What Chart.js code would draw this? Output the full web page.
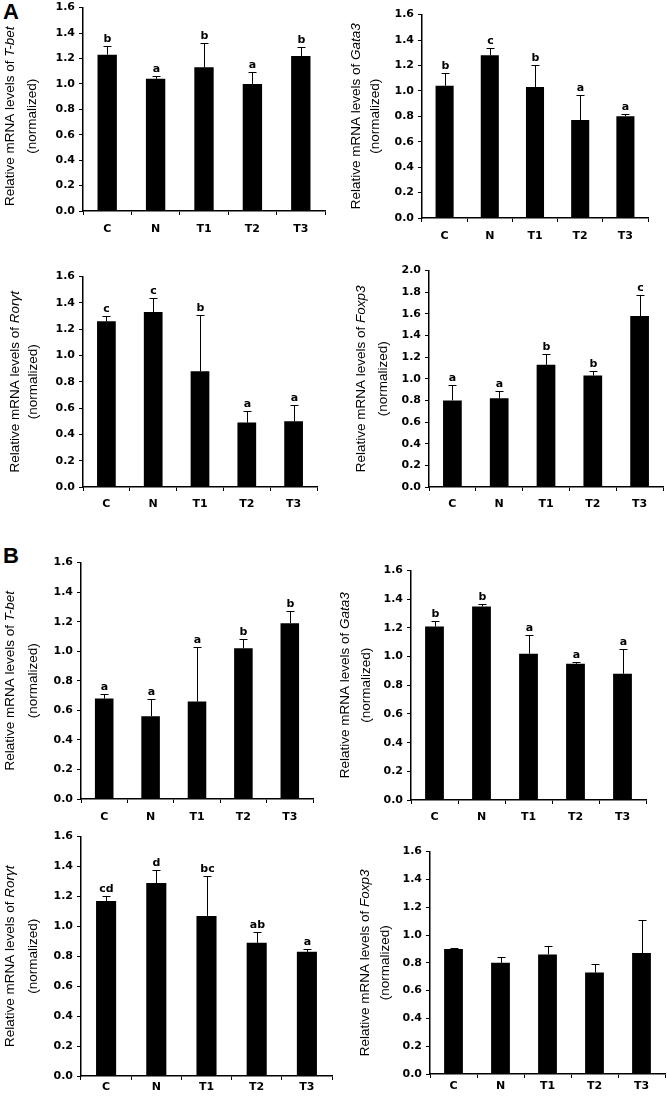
<!DOCTYPE html>
<html>
<head>
<meta charset="utf-8">
<script src="https://cdn.jsdelivr.net/npm/chart.js@4.4.1/dist/chart.umd.min.js"></script>
<style>
  html, body { margin: 0; padding: 0; background: #fff; }
  body { width: 667px; height: 1100px; position: relative; overflow: hidden; }
  canvas { position: absolute; }
  .tag { position: absolute; font: bold 22px "Liberation Sans", Arial, sans-serif; line-height: 22px; color: #000; }
</style>
</head>
<body>
<div class="tag" style="left:3px; top:1px;">A</div>
<div class="tag" style="left:3px; top:545px;">B</div>

<script>
// groups on the x axis
const categories = ['C', 'N', 'T1', 'T2', 'T3'];

// panel A
const tbetA = [1.23, 1.04, 1.13, 1.00, 1.22];
const tbetAErr = [0.07, 0.02, 0.19, 0.09, 0.07];
const tbetALetters = ['b', 'a', 'b', 'a', 'b'];

const gata3A = [1.04, 1.28, 1.03, 0.77, 0.80];
const gata3AErr = [0.10, 0.06, 0.17, 0.20, 0.02];
const gata3ALetters = ['b', 'c', 'b', 'a', 'a'];

const rorA = [1.26, 1.33, 0.88, 0.49, 0.50];
const rorAErr = [0.04, 0.11, 0.43, 0.09, 0.12];
const rorALetters = ['c', 'c', 'b', 'a', 'a'];

const foxp3A = [0.80, 0.82, 1.13, 1.03, 1.58];
const foxp3AErr = [0.14, 0.07, 0.10, 0.04, 0.19];
const foxp3ALetters = ['a', 'a', 'b', 'b', 'c'];

// panel B
const tbetB = [0.68, 0.56, 0.66, 1.02, 1.19];
const tbetBErr = [0.03, 0.12, 0.37, 0.06, 0.08];
const tbetBLetters = ['a', 'a', 'a', 'b', 'b'];

const gata3B = [1.21, 1.35, 1.02, 0.95, 0.88];
const gata3BErr = [0.04, 0.02, 0.13, 0.01, 0.17];
const gata3BLetters = ['b', 'b', 'a', 'a', 'a'];

const rorB = [1.17, 1.29, 1.07, 0.89, 0.83];
const rorBErr = [0.03, 0.09, 0.27, 0.07, 0.02];
const rorBLetters = ['cd', 'd', 'bc', 'ab', 'a'];

const foxp3B = [0.90, 0.80, 0.86, 0.73, 0.87];
const foxp3BErr = [0.005, 0.04, 0.06, 0.06, 0.24];
const foxp3BLetters = ['', '', '', '', ''];

const titlePrefix = 'Relative mRNA levels of ';

// where each small chart sits on the page
const panels = [
    { gene: 'T-bet', values: tbetA, errs: tbetAErr, letters: tbetALetters, max: 1.6,
      left: 0, L: 83, R: 325, T: 5, B: 211, lab: 19, t1: 10, t2: 32, dy: 7 },
    { gene: 'Gata3', values: gata3A, errs: gata3AErr, letters: gata3ALetters, max: 1.6,
      left: 333, L: 422, R: 648, T: 12, B: 218, lab: 19, t1: 356, t2: 375, dy: 0 },
    { gene: 'Rorγt', values: rorA, errs: rorAErr, letters: rorALetters, max: 1.6,
      left: 0, L: 83, R: 317, T: 274, B: 487, lab: 18, t1: 15, t2: 33, dy: 0 },
    { gene: 'Foxp3', values: foxp3A, errs: foxp3AErr, letters: foxp3ALetters, max: 2.0,
      left: 333, L: 429, R: 663, T: 268, B: 487, lab: 18, t1: 361, t2: 383, dy: 0 },
    { gene: 'T-bet', values: tbetB, errs: tbetBErr, letters: tbetBLetters, max: 1.6,
      left: 0, L: 81, R: 313, T: 560, B: 799, lab: 19, t1: 10, t2: 33, dy: 0 },
    { gene: 'Gata3', values: gata3B, errs: gata3BErr, letters: gata3BLetters, max: 1.6,
      left: 333, L: 411, R: 646, T: 568, B: 800, lab: 18, t1: 345, t2: 366, dy: 0 },
    { gene: 'Rorγt', values: rorB, errs: rorBErr, letters: rorBLetters, max: 1.6,
      left: 0, L: 81, R: 332, T: 834, B: 1076, lab: 12, t1: 10, t2: 33, dy: 0 },
    { gene: 'Foxp3', values: foxp3B, errs: foxp3BErr, letters: foxp3BLetters, max: 1.6,
      left: 333, L: 430, R: 665, T: 849, B: 1074, lab: 13, t1: 365, t2: 385, dy: 0 }
];

const tickFont = { family: '"DejaVu Sans", Verdana, sans-serif', size: 11, weight: 'bold' };
const padTop = 8;
const padRight = 2;
const xAxisHeight = 26;

// error bars, letters and the y title
const extras = {
    id: 'extras',
    afterDatasetsDraw(chart) {
        const p = chart.config.options.panel;
        const ctx = chart.ctx;
        const meta = chart.getDatasetMeta(0);
        const yScale = chart.scales.y;
        ctx.save();
        ctx.strokeStyle = '#000';
        ctx.lineWidth = 1;
        ctx.fillStyle = '#000';
        ctx.font = 'bold 11px "DejaVu Sans", Verdana, sans-serif';
        ctx.textAlign = 'center';
        ctx.textBaseline = 'bottom';
        meta.data.forEach((bar, i) => {
            const x = Math.round(bar.x) + 0.5;
            const yTop = Math.round(yScale.getPixelForValue(p.values[i] + p.errs[i])) + 0.5;
            ctx.beginPath();
            ctx.moveTo(x, bar.y);
            ctx.lineTo(x, yTop);
            ctx.moveTo(x - 4, yTop);
            ctx.lineTo(x + 4, yTop);
            ctx.stroke();
            if (p.letters[i]) ctx.fillText(p.letters[i], x, yTop - 2);
        });
        ctx.restore();
    },
    afterDraw(chart) {
        const p = chart.config.options.panel;
        const ctx = chart.ctx;
        const area = chart.chartArea;
        const cy = (area.top + area.bottom) / 2 + p.dy;
        const reg = '13.5px "Liberation Sans", Arial, sans-serif';
        const ita = 'italic 13.5px "Liberation Sans", Arial, sans-serif';
        ctx.save();
        ctx.fillStyle = '#000';
        ctx.textBaseline = 'middle';
        ctx.textAlign = 'left';
        ctx.font = reg;
        const w1 = ctx.measureText(titlePrefix).width;
        ctx.font = ita;
        const w2 = ctx.measureText(p.gene).width;
        ctx.translate(p.t1 - p.left, cy);
        ctx.rotate(-Math.PI / 2);
        const x0 = -(w1 + w2) / 2;
        ctx.font = reg;
        ctx.fillText(titlePrefix, x0, 0);
        ctx.font = ita;
        ctx.fillText(p.gene, x0 + w1, 0);
        ctx.restore();

        ctx.save();
        ctx.fillStyle = '#000';
        ctx.font = reg;
        ctx.textBaseline = 'middle';
        ctx.textAlign = 'center';
        ctx.translate(p.t2 - p.left, cy);
        ctx.rotate(-Math.PI / 2);
        ctx.fillText('(normalized)', 0, 0);
        ctx.restore();
    }
};

panels.forEach(p => {
    const canvas = document.createElement('canvas');
    const top = p.T - padTop;
    const width = p.R + padRight - p.left;
    const height = p.B - top + xAxisHeight;
    canvas.width = width;
    canvas.height = height;
    canvas.style.left = p.left + 'px';
    canvas.style.top = top + 'px';
    canvas.style.width = width + 'px';
    canvas.style.height = height + 'px';
    document.body.appendChild(canvas);

    new Chart(canvas.getContext('2d'), {
        type: 'bar',
        data: {
            labels: categories,
            datasets: [{
                data: p.values,
                backgroundColor: '#000',
                borderWidth: 0,
                barPercentage: 0.4,
                categoryPercentage: 1
            }]
        },
        options: {
            panel: p,
            responsive: false,
            animation: false,
            devicePixelRatio: 1,
            layout: { padding: { top: padTop, right: padRight, left: 0, bottom: 0 } },
            plugins: { legend: { display: false }, tooltip: { enabled: false } },
            scales: {
                x: {
                    grid: { display: true, drawOnChartArea: false, drawTicks: true, tickLength: 4, color: '#000', offset: true },
                    border: { display: true, color: '#000', width: 1.5 },
                    ticks: { color: '#000', font: tickFont, padding: p.lab - 11, maxRotation: 0 },
                    afterFit(scale) { scale.height = xAxisHeight; }
                },
                y: {
                    min: 0,
                    max: p.max,
                    grid: { display: true, drawOnChartArea: false, drawTicks: true, tickLength: 4, color: '#000' },
                    border: { display: true, color: '#000', width: 1.5 },
                    ticks: {
                        stepSize: 0.2,
                        color: '#000',
                        font: tickFont,
                        padding: 4,
                        callback: v => v.toFixed(1)
                    },
                    afterFit(scale) { scale.width = p.L - p.left; }
                }
            }
        },
        plugins: [extras]
    });
});
</script>
</body>
</html>
